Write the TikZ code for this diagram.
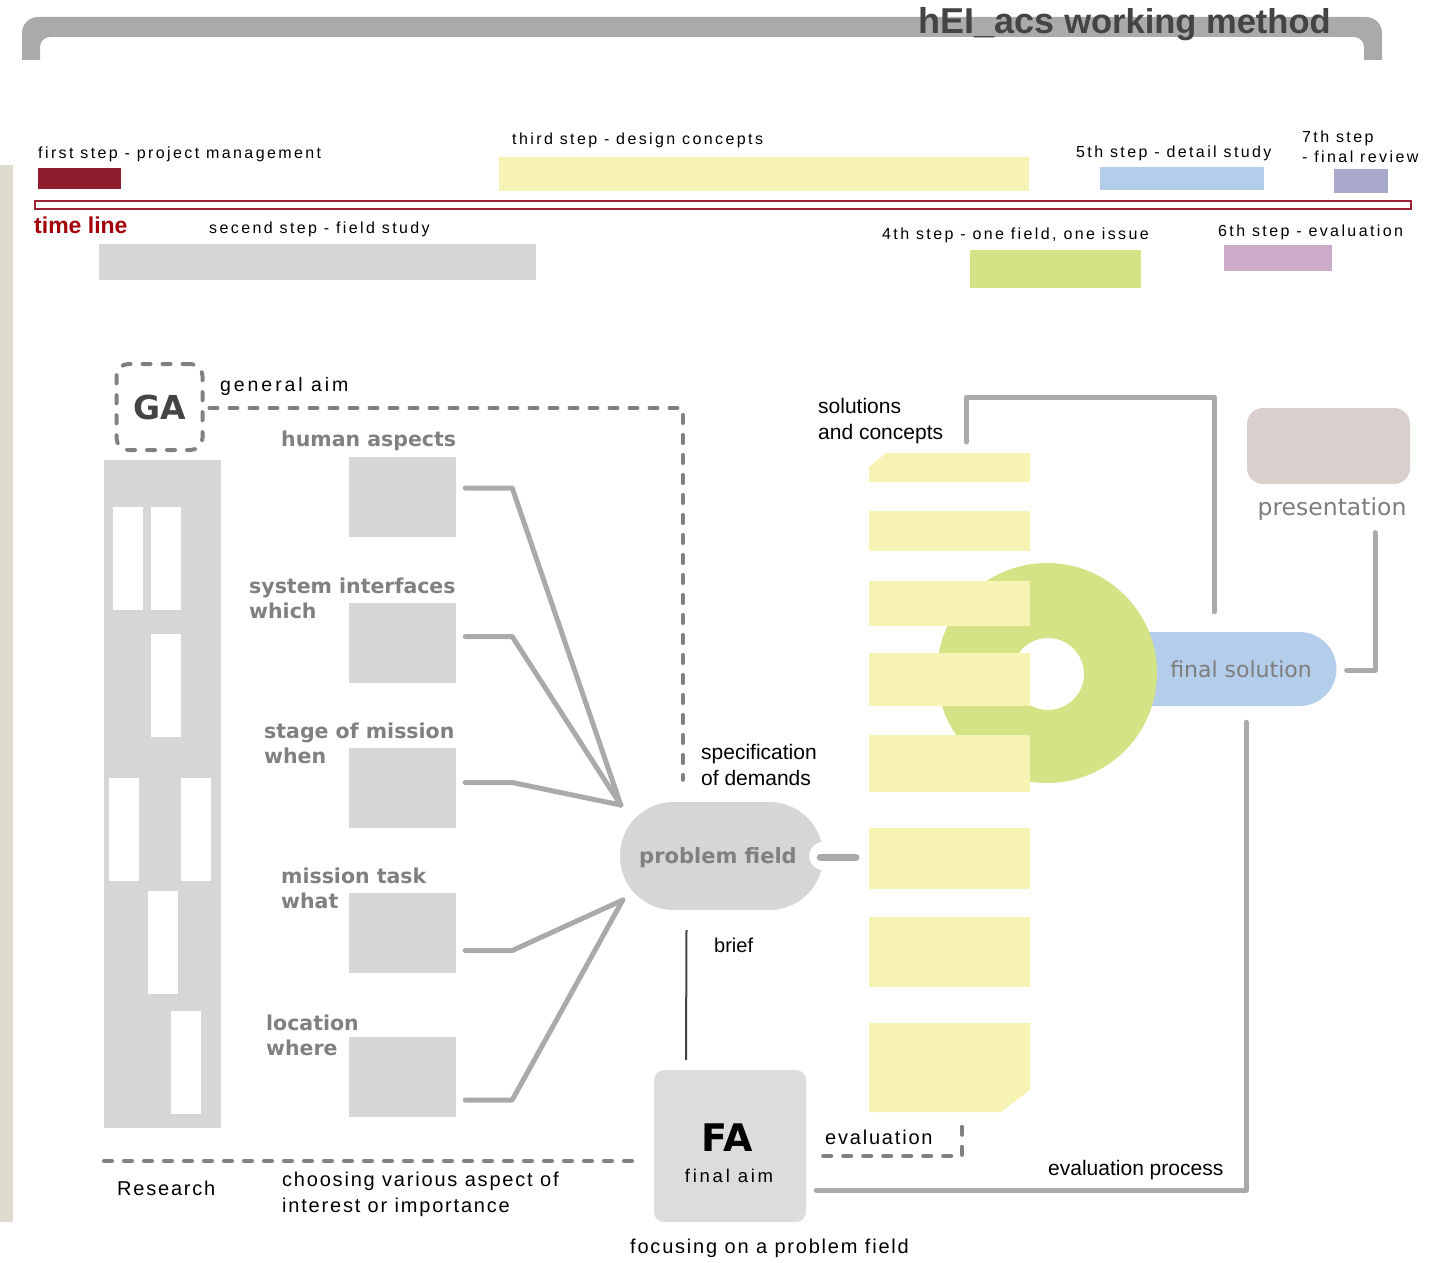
\documentclass[tikz,border=0pt]{standalone}
\usepackage{fontspec}
\setmainfont{Liberation Sans}
\newfontfamily\stepfont[LetterSpace=15]{Liberation Sans}
\newfontfamily\widefont[LetterSpace=9]{Liberation Sans}
\newfontfamily\vfont{DejaVu Sans}
\usepackage{tikz}
\usetikzlibrary{calc,shapes.misc}
\definecolor{barred}{RGB}{143,29,46}
\definecolor{tlred}{RGB}{155,35,53}
\definecolor{tltext}{RGB}{163,0,10}
\definecolor{ylw}{RGB}{247,243,180}
\definecolor{stepblue}{RGB}{180,205,235}
\definecolor{lav}{RGB}{168,168,203}
\definecolor{boxgray}{RGB}{214,214,214}
\definecolor{stepgreen}{RGB}{213,227,135}
\definecolor{mauve}{RGB}{203,171,200}
\definecolor{beige}{RGB}{224,219,207}
\definecolor{prescol}{RGB}{217,207,204}
\definecolor{facol}{RGB}{220,220,222}
\definecolor{titlebar}{RGB}{170,170,170}
\definecolor{titlegray}{RGB}{68,68,68}
\definecolor{labelgray}{RGB}{128,128,128}
\definecolor{solgray}{RGB}{125,125,125}
\definecolor{linegray}{RGB}{170,170,170}
\definecolor{dashgray}{RGB}{128,128,128}
\tikzset{
  steplbl/.style={anchor=west,inner sep=0,align=left,font=\stepfont\fontsize{16}{20}\selectfont},
  txt/.style={anchor=west,inner sep=0,align=left,font=\fontsize{21}{26}\selectfont},
  wtxt/.style={anchor=west,inner sep=0,align=left,font=\widefont\fontsize{20}{26}\selectfont},
  aspect/.style={anchor=west,inner sep=0,align=left,text=labelgray,font=\vfont\bfseries\fontsize{20.5}{25}\selectfont},
  abox/.style={fill=boxgray,minimum width=107,minimum height=80,inner sep=0},
  gline/.style={draw=linegray,line width=5,line cap=round,line join=round},
  dline/.style={draw=dashgray,line width=4,line cap=round,dash pattern=on 8 off 12},
}

\begin{document}
\begin{tikzpicture}[x=1pt,y=-1pt,
  pfbox/.style={fill=boxgray,rounded corners=53.5,minimum width=203,minimum height=108,inner sep=0},
  fsbox/.style={rounded rectangle,rounded rectangle west arc=none,fill=stepblue,minimum width=196,
    minimum height=74,inner sep=0,text=solgray,font=\vfont\fontsize{22}{26}\selectfont}]
  \useasboundingbox (0,0) rectangle (1430,1263);
  % title bar
  \fill[titlebar] (22,60) [rounded corners=16] -- (22,17) -- (1382,17) [sharp corners] -- (1382,60)
    -- (1364,60) [rounded corners=10] -- (1364,37) -- (40,37) [sharp corners] -- (40,60) -- cycle;
  \node[anchor=base west,inner sep=0,text=titlegray,font=\bfseries\fontsize{36}{40}\selectfont] (ttl)
    at (918,34) {hEI\_acs {\fontsize{34.5}{38}\selectfont working method}};
  \fill[beige] (0,165) rectangle (13,1222);
  % time line and steps
  \draw[tlred,line width=2,fill=white] (35,201) rectangle (1411,209);
  \node[anchor=west,inner sep=0,text=tltext,font=\bfseries\fontsize{23}{26}\selectfont] (tl) at (34,225) {time line};
  \fill[barred] (38,168) rectangle (121,189);
  \fill[ylw] (499,157) rectangle (1029,191);
  \fill[stepblue] (1100,167) rectangle (1264,190);
  \fill[lav] (1334,169) rectangle (1388,193);
  \fill[boxgray] (99,244) rectangle (536,280);
  \fill[stepgreen] (970,250) rectangle (1141,288);
  \fill[mauve] (1224,245) rectangle (1332,271);
  \node[steplbl] (s1) at (38,154) {first step - project management};
  \node[steplbl] (s2) at (209,229) {secend step - field study};
  \node[steplbl] (s3) at (512,140) {third step - design concepts};
  \node[steplbl] (s4) at (882,235) {4th step - one field, one issue};
  \node[steplbl] (s5) at (1076,153) {5th step - detail study};
  \node[steplbl] (s6) at (1218,232) {6th step - evaluation};
  \node[steplbl] (s7) at (1302,147) {7th step\\- final review};
  % research column
  \fill[boxgray] (104,460) rectangle (221,1128);
  \foreach \x/\y in {113/507,151/507,151/634,109/778,181/778,148/891,171/1011}
    \fill[white] (\x,\y) rectangle ++(30,103);
  \coordinate (resl) at (104,1161);
  \node[wtxt] (res) at (117,1188) {Research};
  \node[wtxt] (cho) at (282,1194) {choosing various aspect of\\interest or importance};
  % general aim
  \node[dline,rounded corners=12,minimum size=86,inner sep=0,text=titlegray,
    font=\vfont\bfseries\fontsize{33}{35}\selectfont] (ga) at (159.5,407) {GA};
  \node[wtxt,font=\stepfont\fontsize{19.5}{22}\selectfont] (gal) at (220,386) {general aim};
  % aspects
  \node[abox] (hum) at (402.5,497) {};
  \node[abox] (sys) at (402.5,642.5) {};
  \node[abox] (stg) at (402.5,787.5) {};
  \node[abox] (tsk) at (402.5,932.5) {};
  \node[abox] (loc) at (402.5,1077) {};
  \node[aspect] (huml) at (281,441) {human aspects};
  \node[aspect] (sysl) at (249,598.5) {system interfaces\\which};
  \node[aspect] (stgl) at (264,743) {stage of mission\\when};
  \node[aspect] (tskl) at (281,888.5) {mission task\\what};
  \node[aspect] (locl) at (266,1035) {location\\where};
  % problem field
  \node[pfbox] (pf) at (721.5,856) {};
  \node[inner sep=0,text=labelgray,font=\vfont\bfseries\fontsize{21}{25}\selectfont] (pft) at (718,858) {problem field};
  \coordinate (pfa) at ($(pf.west)+(1,-51)$);
  \coordinate (pfb) at ($(pf.west)+(3,44)$);
  \foreach \b/\dy/\e in {hum/-9/pfa,sys/-6/pfa,stg/-5/pfa,tsk/18/pfb,loc/23/pfb}
    \draw[gline] ($(\b.east)+(9,\dy)$) -- ++(47,0) -- (\e);
  \draw[dline] ($(ga.east)+(5,1)$) -| ($(pf.north)+(-39,-22)$);
  \node[txt] (spec) at (701,764.5) {specification\\of demands};
  % final aim
  \node[fill=facol,rounded corners=10,minimum size=152,inner sep=0] (fa) at (730,1146) {};
  \node[inner sep=0,font=\vfont\bfseries\fontsize{38}{40}\selectfont] (fat) at (727,1138) {FA};
  \node[wtxt,anchor=center,font=\stepfont\fontsize{18.5}{22}\selectfont] (faim) at (729,1176) {final aim};
  \draw[titlegray,line width=2] ($(pf.south)+(-35,20)$) -- ($(fa.north)+(-44,-10)$);
  \node[txt,font=\fontsize{20}{24}\selectfont] (brf) at (714,945) {brief};
  \draw[dline] (resl) -- ($(fa.west)+(-12,15)$);
  \node[wtxt] (foc) at (630,1248) {focusing on a problem field};
  % solutions
  \node[fsbox] (fs) at (1238,669) {\hspace*{6pt}final solution};
  \fill[stepgreen,even odd rule] (1047,673) circle (110) (1048,674) circle (36);
  \fill[ylw] (869,467) -- (886,453) -- (1030,453) -- (1030,482) -- (869,482) -- cycle;
  \foreach \ya/\yb in {511/551,581/626,653/706,735/792,828/889,917/987}
    \fill[ylw] (869,\ya) rectangle (1030,\yb);
  \fill[ylw] (869,1023) -- (1030,1023) -- (1030,1090) -- (1001,1112) -- (869,1112) -- cycle;
  \coordinate (blk) at (869,857);
  \coordinate (evtop) at (962,1125);
  \fill[white] (pf.east) circle (14);
  \draw[gline,line width=7] ($(pf.east)+(-3,1)$) -- ($(blk)+(-13,0)$);
  \node[txt] (sol) at (818,421) {solutions\\and concepts};
  \draw[gline] ($(sol.east)+(23,21)$) |- (1214,397) -- ($(fs.north)+(-24,-20)$);
  \node[fill=prescol,rounded corners=16,minimum width=163,minimum height=76] (pr) at (1328.5,446) {};
  \node[inner sep=0,text=solgray,font=\vfont\fontsize{23.5}{28}\selectfont] (prl) at (1332,509) {presentation};
  \draw[gline] ($(prl.south)+(43,12)$) |- ($(fs.east)+(10,1)$);
  % evaluation
  \draw[dline] ($(fa.east)+(17,10)$) -| (evtop);
  \node[wtxt] (ev) at (825,1137) {evaluation};
  \draw[gline] ($(fa.east)+(10,44)$) -| ($(fs.south)+(8,16)$);
  \node[txt] (evp) at (1048,1170) {evaluation process};
\end{tikzpicture}
\end{document}
